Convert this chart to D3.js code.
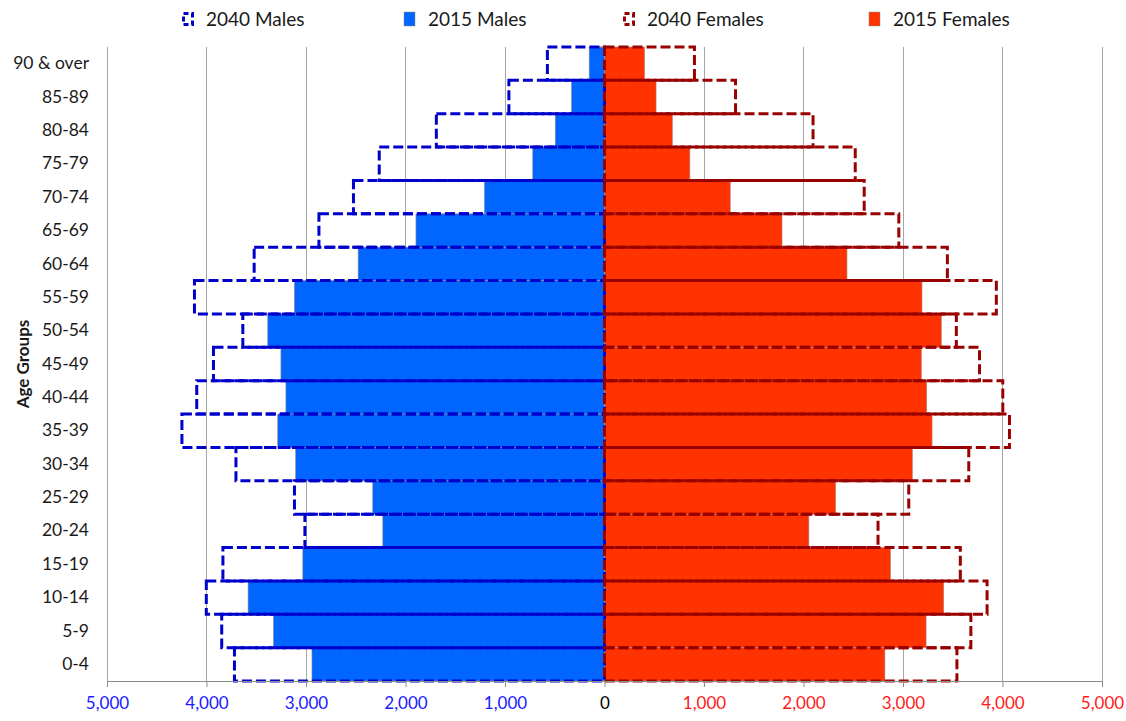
<!DOCTYPE html>
<html><head><meta charset="utf-8">
<script src="https://cdn.jsdelivr.net/npm/d3@7"></script>
<style>
html,body{margin:0;padding:0;background:#fff;}
text{font-family:Lato,"Noto Sans",sans-serif;}
</style></head>
<body><svg id="c" width="1126" height="721"></svg>
<script>
const ageGroups = ["0-4","5-9","10-14","15-19","20-24","25-29","30-34","35-39","40-44","45-49","50-54","55-59","60-64","65-69","70-74","75-79","80-84","85-89","90 & over"];
const males2015   = [2940,3327,3582,3032,2228,2329,3104,3284,3202,3252,3384,3116,2476,1895,1206,721,495,331,154];
const males2040   = [3719,3847,4002,3835,3011,3116,3704,4247,4098,3930,3635,4121,3521,2870,2523,2264,1690,961,574];
const females2015 = [2818,3232,3409,2874,2054,2323,3094,3292,3238,3184,3385,3191,2437,1784,1264,858,682,518,402];
const females2040 = [3542,3682,3845,3576,2749,3058,3661,4070,4003,3769,3536,3938,3446,2958,2610,2520,2096,1317,904];
const xTicks = [-5000,-4000,-3000,-2000,-1000,0,1000,2000,3000,4000,5000];
const legendItems = ["2040 Males","2015 Males","2040 Females","2015 Females"];

const C = {m15:"#0066FF", f15:"#FF3300", m40:"#0000CC", f40:"#990000", grid:"#A6A6A6"};
const FONT = "Lato,'Noto Sans',sans-serif";
const svg = d3.select("#c");
const x = d3.scaleLinear().domain([-5000,5000]).range([107,1102]);
const y = d3.scaleBand().domain(ageGroups.slice().reverse()).range([47,681]).padding(0);

// gridlines
svg.append("g").selectAll("line").data(xTicks.filter(d=>d!==0)).join("line")
  .attr("x1",d=>x(d)).attr("x2",d=>x(d)).attr("y1",47).attr("y2",681)
  .attr("stroke",C.grid).attr("stroke-width",1).attr("shape-rendering","crispEdges");

// 2015 bars
const rows = ageGroups.map((g,i)=>({g, m15:males2015[i], m40:males2040[i], f15:females2015[i], f40:females2040[i]}));
svg.append("g").selectAll("rect").data(rows).join("rect")
  .attr("x",d=>x(-d.m15)).attr("y",d=>y(d.g)).attr("width",d=>x(0)-x(-d.m15)).attr("height",y.bandwidth())
  .attr("fill",C.m15).attr("stroke","#8a8a8a").attr("stroke-width",0.6);
svg.append("g").selectAll("rect").data(rows).join("rect")
  .attr("x",x(0)).attr("y",d=>y(d.g)).attr("width",d=>x(d.f15)-x(0)).attr("height",y.bandwidth())
  .attr("fill",C.f15).attr("stroke","#b08080").attr("stroke-width",0.6);

// vertical axis at zero
const ax0 = svg.append("g");
ax0.append("line").attr("x1",x(0)).attr("x2",x(0)).attr("y1",47).attr("y2",681).attr("stroke","#8c8c8c").attr("stroke-width",1);
ax0.selectAll("line.t").data(d3.range(ageGroups.length+1)).join("line").attr("class","t")
  .attr("x1",x(0)-6).attr("x2",x(0)+6)
  .attr("y1",i=>47+i*y.step()).attr("y2",i=>47+i*y.step())
  .attr("stroke","#8c8c8c").attr("stroke-width",1);

// 2040 outlines
svg.append("g").selectAll("rect").data(rows).join("rect")
  .attr("x",d=>x(-d.m40)).attr("y",d=>y(d.g)).attr("width",d=>x(0)-x(-d.m40)).attr("height",y.bandwidth())
  .attr("fill","none").attr("stroke",C.m40).attr("stroke-width",3).attr("stroke-dasharray","10,4");
svg.append("g").selectAll("rect").data(rows).join("rect")
  .attr("x",x(0)).attr("y",d=>y(d.g)).attr("width",d=>x(d.f40)-x(0)).attr("height",y.bandwidth())
  .attr("fill","none").attr("stroke",C.f40).attr("stroke-width",3).attr("stroke-dasharray","10,4");

// bottom axis
const xAxis = d3.axisBottom(x).tickValues(xTicks).tickSize(6).tickSizeOuter(0).tickPadding(10)
  .tickFormat(d=>d3.format(",")(Math.abs(d)));
const gx = svg.append("g").attr("transform","translate(0,681)").call(xAxis);
gx.select(".domain").attr("stroke","#8c8c8c");
gx.selectAll(".tick line").attr("stroke","#8c8c8c");
gx.selectAll(".tick text").attr("font-size",17).attr("font-family",FONT)
  .attr("fill",d=>d<0?"#1a1aff":(d>0?"#ff1a1a":"#000"));

// left axis labels
const yAxis = d3.axisLeft(y).tickSize(0).tickPadding(0);
const gy = svg.append("g").attr("transform","translate(89,0)").call(yAxis);
gy.select(".domain").remove();
gy.selectAll(".tick text").attr("font-size",17.5).attr("font-family",FONT).attr("fill","#1a1a1a");

// y title
svg.append("text").attr("transform","translate(29,364) rotate(-90)").attr("text-anchor","middle")
  .attr("font-size",17).attr("font-weight","bold").attr("fill","#1a1a1a").text("Age Groups");

// legend
const legX = [182,404,623,869];
const lg = svg.append("g");
legendItems.forEach((t,i)=>{
  const g = lg.append("g").attr("transform",`translate(${legX[i]},12)`);
  if(i===0||i===2){
    g.append("rect").attr("x",1.5).attr("y",1.5).attr("width",9).attr("height",11)
      .attr("fill","none").attr("stroke",i===0?C.m40:C.f40).attr("stroke-width",3).attr("stroke-dasharray","5,3");
  } else {
    g.append("rect").attr("x",0).attr("y",0).attr("width",11).attr("height",14)
      .attr("fill",i===1?C.m15:C.f15).attr("stroke","#8a8a8a").attr("stroke-width",0.5);
  }
  g.append("text").attr("x",24).attr("y",13.5).attr("font-size",19).attr("fill","#1a1a1a").text(t);
});
</script></body></html>
